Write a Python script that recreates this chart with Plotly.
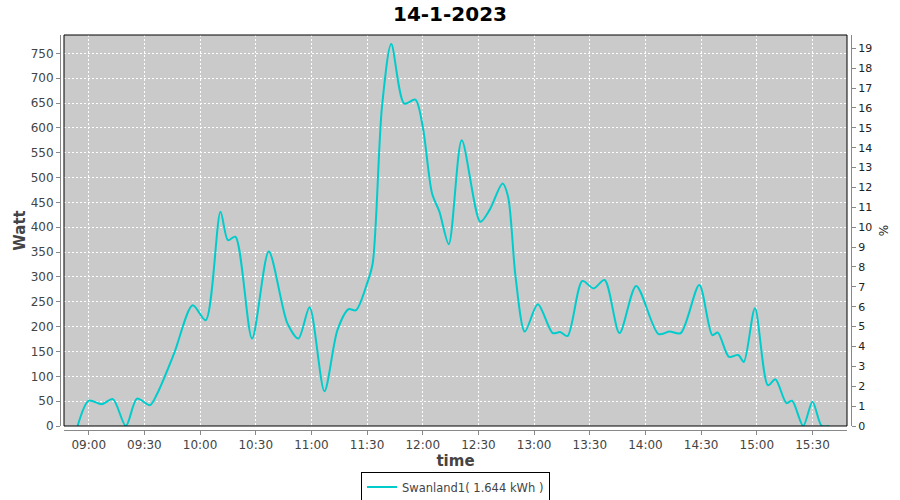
import plotly.graph_objects as go

date = "2023-01-14"
times = ["08:54", "09:00", "09:07", "09:13", "09:20", "09:26", "09:33", "09:37",
         "09:46", "09:56", "10:03", "10:11", "10:15", "10:19", "10:28", "10:37",
         "10:47", "10:53", "10:59", "11:07", "11:14", "11:20", "11:24", "11:30",
         "11:33", "11:38", "11:43", "11:50", "11:56", "12:00", "12:05", "12:09",
         "12:14", "12:21", "12:31", "12:36", "12:43", "12:46", "12:50", "12:55",
         "13:02", "13:10", "13:14", "13:18", "13:26", "13:32", "13:38", "13:46",
         "13:55", "14:07", "14:13", "14:19", "14:29", "14:36", "14:39", "14:45",
         "14:50", "14:53", "14:59", "15:06", "15:10", "15:16", "15:19", "15:25",
         "15:30", "15:35", "15:39"]
watts = [0, 51, 44, 54, 0, 55, 42, 66,
         146, 243, 213, 431, 374, 381, 176, 351,
         207, 176, 239, 70, 193, 235, 233, 287,
         327, 642, 769, 649, 657, 602, 468, 431,
         366, 575, 411, 435, 488, 461, 300, 190,
         245, 187, 189, 181, 292, 277, 294, 187,
         282, 185, 190, 187, 284, 183, 188, 139,
         143, 129, 237, 82, 94, 46, 51, 0,
         49, 0, 0]
series_name = "Swanland1( 1.644 kWh )"
title_text = "14-1-2023"
tick_vals = ["09:00", "09:30", "10:00", "10:30", "11:00", "11:30", "12:00", "12:30",
             "13:00", "13:30", "14:00", "14:30", "15:00", "15:30"]

x = [f"{date} {t}" for t in times]

FONT = "DejaVu Sans"
GRAY = "#444444"
AXIS = "#888888"

fig = go.Figure()
fig.add_trace(go.Scatter(
    x=x, y=watts, mode="lines", name=series_name,
    line=dict(color="#00CCCC", width=2, shape="spline", smoothing=0.8),
))
# invisible trace for the right axis
fig.add_trace(go.Scatter(x=[x[0]], y=[0], yaxis="y2", mode="lines",
                         showlegend=False, hoverinfo="skip",
                         line=dict(color="rgba(0,0,0,0)")))

W, H = 900, 500
ml, mr, mt, mb = 60, 49, 35, 70
pw = W - ml - mr
ph = H - mt - mb

fig.update_layout(
    width=W, height=H,
    margin=dict(l=ml, r=mr, t=mt, b=mb, pad=0, autoexpand=False),
    paper_bgcolor="white",
    plot_bgcolor="#CACACA",
    font=dict(family=FONT, size=11, color=GRAY),
    title=dict(text=f"<b>{title_text}</b>", x=0.5, xanchor="center",
               y=1 - 14 / H, yanchor="middle", automargin=False,
               font=dict(family=FONT, size=20, color="black")),
    showlegend=True,
    legend=dict(orientation="h", x=0.5, xanchor="center", y=-(487 - 430) / ph,
                yanchor="middle", bordercolor="black", borderwidth=1,
                bgcolor="white", font=dict(family=FONT, size=11.5, color=GRAY),
                itemwidth=30, tracegroupgap=0),
    xaxis=dict(
        domain=[4 / pw, 787 / pw],
        type="date",
        range=[f"{date} 08:46:40", f"{date} 15:48:36"],
        tickvals=[f"{date} {t}" for t in tick_vals],
        ticktext=tick_vals,
        showgrid=True, gridcolor="white", gridwidth=1, griddash="2px,2px",
        showline=True, linecolor=AXIS, linewidth=1,
        ticks="outside", ticklen=4, tickcolor=AXIS,
        tickfont=dict(family=FONT, size=12, color=GRAY),
        title=dict(text="<b>time</b>", font=dict(family=FONT, size=15, color=GRAY),
                   standoff=3),
        zeroline=False, automargin=False,
        anchor="free", position=0,
    ),
    yaxis=dict(
        domain=[4 / ph, 1],
        range=[0, 787],
        dtick=50, tick0=0,
        showgrid=True, gridcolor="white", gridwidth=1, griddash="2px,2px",
        showline=True, linecolor=AXIS, linewidth=1,
        ticks="outside", ticklen=4, tickcolor=AXIS,
        tickfont=dict(family=FONT, size=12, color=GRAY),
        title=dict(text="<b>Watt</b>", font=dict(family=FONT, size=15, color=GRAY),
                   standoff=0),
        zeroline=False, automargin=False,
        anchor="free", position=0,
    ),
    yaxis2=dict(
        overlaying="y",
        side="right",
        range=[0, 19.67],
        dtick=1, tick0=0,
        showgrid=False,
        showline=True, linecolor=AXIS, linewidth=1,
        ticks="outside", ticklen=4, tickcolor=AXIS,
        tickfont=dict(family=FONT, size=11, color="#222222"),
        title=dict(text="%", font=dict(family=FONT, size=12, color="#222222"),
                   standoff=8),
        zeroline=False, automargin=False,
        anchor="free", position=1,
    ),
)

fig.add_shape(type="rect", xref="x domain", yref="y domain", x0=0, x1=1, y0=0, y1=1,
              line=dict(color="black", width=1), fillcolor="rgba(0,0,0,0)", layer="above")

fig.write_html("out.html", config={"displayModeBar": False},
               post_script="document.body.style.margin='0';document.body.style.overflow='hidden';")
